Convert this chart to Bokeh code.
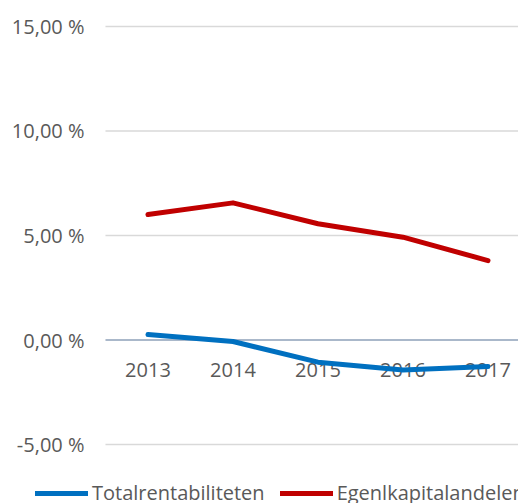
from bokeh.plotting import figure
from bokeh.models import Range1d, Legend, LegendItem, ColumnDataSource
from bokeh.core.properties import value
from bokeh.embed import file_html
from bokeh.resources import INLINE

years = ["2013", "2014", "2015", "2016", "2017"]
totalrentabiliteten = [0.26, -0.07, -1.06, -1.43, -1.27]
egenkapitalandelen = [6.00, 6.56, 5.56, 4.92, 3.80]
y_ticks = [-5, 0, 5, 10, 15]
y_tick_labels = ["-5,00 %", "0,00 %", "5,00 %", "10,00 %", "15,00 %"]

xs = list(range(len(years)))
FONT = "Open Sans"
TXT = "#595959"

# category band: the plot area starts half a category left of the first year
x_lo = -0.5
x_hi = 4.359

p = figure(frame_width=518, frame_height=503, output_backend="svg", toolbar_location=None,
           x_range=Range1d(-1.735, x_hi), y_range=Range1d(-7.82, 16.24),
           min_border=0)
p.outline_line_color = None
p.background_fill_color = "white"
p.border_fill_color = "white"
p.axis.visible = False
p.grid.visible = False

# horizontal gridlines (value axis) and the category axis line at zero
grid_vals = [t for t in y_ticks if t != 0]
p.segment(x0=[x_lo] * len(grid_vals), x1=[x_hi] * len(grid_vals), y0=grid_vals, y1=grid_vals,
          line_color="#D9D9D9", line_width=1.5)
p.segment(x0=[x_lo], x1=[x_hi], y0=[0], y1=[0], line_color="#8EA0B8", line_width=1.5)

# value axis labels
ysrc = ColumnDataSource(dict(x=[x_lo] * len(y_ticks), y=y_ticks, t=y_tick_labels))
p.text(x="x", y="y", text="t", source=ysrc, x_offset=-21,
       text_font=value(FONT), text_font_size="20px", text_color=TXT,
       text_align="right", text_baseline="middle")

# category labels below the zero line
cat_src = ColumnDataSource(dict(x=xs, y=[0] * len(xs), t=years))
p.text(x="x", y="y", text="t", source=cat_src, y_offset=30,
       text_font=value(FONT), text_font_size="20px", text_color=TXT,
       text_align="center", text_baseline="middle")

r1 = p.line(xs, totalrentabiliteten, line_color="#0070C0", line_width=5,
            line_cap="round", line_join="round")
r2 = p.line(xs, egenkapitalandelen, line_color="#C00000", line_width=5,
            line_cap="round", line_join="round")

legend = Legend(items=[LegendItem(label="Totalrentabiliteten", renderers=[r1]),
                       LegendItem(label="Egenlkapitalandelen", renderers=[r2])],
                location=(35, -3), orientation="horizontal",
                label_text_font=FONT, label_text_font_size="20px", label_text_color=TXT,
                glyph_width=53, glyph_height=20, label_height=20, label_standoff=4,
                spacing=15, padding=0, margin=0, border_line_color=None,
                background_fill_alpha=0)
p.add_layout(legend, "center")

open("out.html", "w").write(file_html(p, INLINE))
